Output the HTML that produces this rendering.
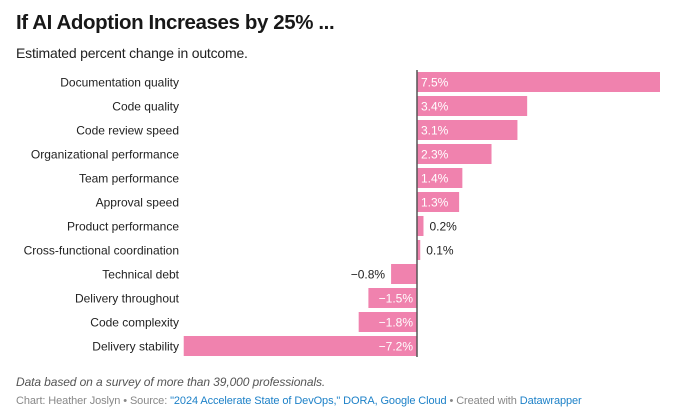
<!DOCTYPE html>
<html><head><meta charset="utf-8">
<style>
body{margin:0;width:673px;height:418px;background:#fff;font-family:"Liberation Sans",sans-serif;overflow:hidden;position:relative}
#title{position:absolute;left:16px;top:11px;font-size:20.5px;font-weight:bold;color:#181818;letter-spacing:-0.4px}
#sub{position:absolute;left:16px;top:45px;font-size:14px;color:#222;letter-spacing:-0.2px}
#note{position:absolute;left:16px;top:375px;font-size:12px;font-style:italic;color:#555;letter-spacing:-0.1px}
#src{position:absolute;left:16px;top:395px;font-size:11px;color:#888;letter-spacing:-0.1px}
#src a{color:#1d81c8;text-decoration:none}
</style></head><body>
<div id="title">If AI Adoption Increases by 25% ...</div>
<div id="sub">Estimated percent change in outcome.</div>
<svg id="chart" width="673" height="418" style="position:absolute;left:0;top:0"></svg>
<div id="note">Data based on a survey of more than 39,000 professionals.</div>
<div id="src">Chart: Heather Joslyn • Source: <a>"2024 Accelerate State of DevOps," DORA, Google Cloud</a> • Created with <a>Datawrapper</a></div>
<script>
const categories=["Documentation quality","Code quality","Code review speed","Organizational performance","Team performance","Approval speed","Product performance","Cross-functional coordination","Technical debt","Delivery throughout","Code complexity","Delivery stability"];
const values=[7.5,3.4,3.1,2.3,1.4,1.3,0.2,0.1,-0.8,-1.5,-1.8,-7.2];
const labels=["7.5%","3.4%","3.1%","2.3%","1.4%","1.3%","0.2%","0.1%","−0.8%","−1.5%","−1.8%","−7.2%"];
const NS="http://www.w3.org/2000/svg";
const svg=document.getElementById('chart');
const zeroX=417, unit=(660-417)/7.5;
const x=v=>zeroX+v*unit;
const y=i=>72+i*24;
function mk(t,a){const e=document.createElementNS(NS,t);for(const k in a)e.setAttribute(k,a[k]);svg.appendChild(e);return e;}
categories.forEach((c,i)=>{
  const v=values[i];
  const l=mk('text',{x:179,y:y(i)+14.5,'text-anchor':'end','font-size':12,fill:'#222'});
  l.textContent=c;
  
  
  const x0=Math.min(x(0),x(v)), w=Math.abs(x(v)-x(0));
  const r=mk('rect',{x:x0,y:y(i),width:w,height:20,fill:'#f082ae'});
  
  
  const inside=w>28;
  let tx,anchor,fill;
  if(v>=0){tx=inside?x(0)+4:x(v)+6;anchor='start';fill=inside?'#fff':'#222';}
  else{tx=inside?x(0)-4:x(v)-6;anchor='end';fill=inside?'#fff':'#222';}
  const t=mk('text',{x:tx,y:y(i)+14.5,'text-anchor':anchor,'font-size':12,fill:fill});
  t.textContent=labels[i];
  
  
});
const ax=mk('line',{x1:zeroX,x2:zeroX,y1:70,y2:357,stroke:'#555','stroke-width':1.5});


</script>
</body></html>
